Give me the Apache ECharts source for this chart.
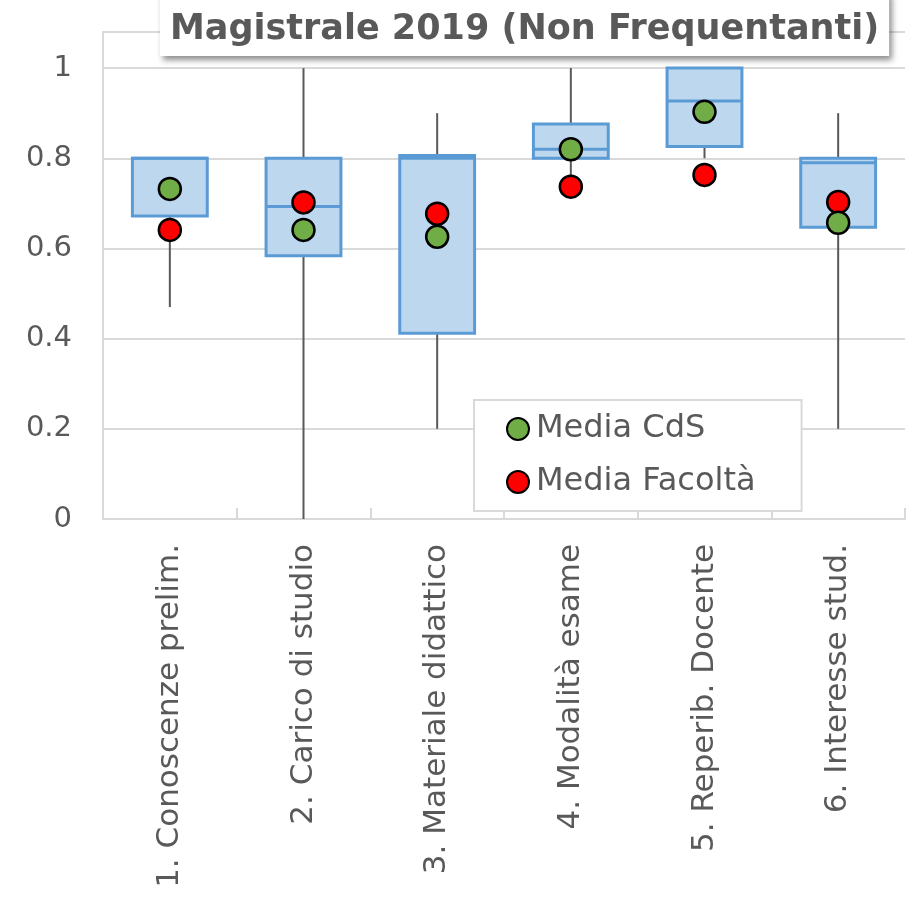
<!DOCTYPE html>
<html>
<head>
<meta charset="utf-8">
<title>Magistrale 2019 (Non Frequentanti)</title>
<script src="https://cdn.jsdelivr.net/npm/echarts@6/dist/echarts.min.js"></script>
<style>
  html, body { margin: 0; padding: 0; background: #ffffff; }
  #chart { width: 910px; height: 914px; }
</style>
</head>
<body>
<div id="chart"></div>
<script>
// Questionnaire areas on the x axis
const categories = [
  '1. Conoscenze prelim.',
  '2. Carico di studio',
  '3. Materiale didattico',
  '4. Modalità esame',
  '5. Reperib. Docente',
  '6. Interesse stud.'
];

// Box-and-whisker statistics per area
const minVals    = [0.47, 0.00, 0.20, 0.75, 0.80, 0.20];
const q1Vals     = [0.672, 0.584, 0.412, 0.800, 0.826, 0.647];
const medianVals = [0.800, 0.693, 0.800, 0.820, 0.927, 0.790];
const q3Vals     = [0.800, 0.800, 0.806, 0.876, 1.000, 0.800];
const maxVals    = [0.80, 1.00, 0.90, 1.00, 1.00, 0.90];

// Averages shown as dots
const mediaCdS     = [0.732, 0.641, 0.626, 0.820, 0.903, 0.657];
const mediaFacolta = [0.641, 0.702, 0.677, 0.737, 0.763, 0.703];

// y axis ticks
const yTicks = [0, 0.2, 0.4, 0.6, 0.8, 1];

const TEXT = '#595959';
const GRID = '#d9d9d9';
const FONT = '"DejaVu Sans", sans-serif';

const boxData = categories.map((c, i) => [i, minVals[i], q1Vals[i], medianVals[i], q3Vals[i], maxVals[i]]);

function renderBox(params, api) {
  const idx = api.value(0);
  const band = api.size([1, 0])[0];
  const w = band * 0.56;
  const cx = api.coord([idx, 0])[0];
  const yMin = api.coord([idx, api.value(1)])[1];
  const yQ1 = api.coord([idx, api.value(2)])[1];
  const yMed = api.coord([idx, api.value(3)])[1];
  const yQ3 = api.coord([idx, api.value(4)])[1];
  const yMax = api.coord([idx, api.value(5)])[1];
  const whisker = { stroke: '#595959', lineWidth: 2 };
  const children = [];
  if (yMin - yQ1 > 0.5) {
    children.push({ type: 'line', shape: { x1: cx, y1: yQ1, x2: cx, y2: yMin }, style: whisker });
  }
  if (yQ3 - yMax > 0.5) {
    children.push({ type: 'line', shape: { x1: cx, y1: yMax, x2: cx, y2: yQ3 }, style: whisker });
  }
  children.push({
    type: 'rect',
    shape: { x: cx - w / 2, y: yQ3, width: w, height: yQ1 - yQ3 },
    style: { fill: '#BDD7EE', stroke: '#5B9BD5', lineWidth: 3 }
  });
  children.push({
    type: 'line',
    shape: { x1: cx - w / 2, y1: yMed, x2: cx + w / 2, y2: yMed },
    style: { stroke: '#5B9BD5', lineWidth: 3 }
  });
  return { type: 'group', children: children };
}

const chart = echarts.init(document.getElementById('chart'), null, { renderer: 'canvas' });

chart.setOption({
  animation: false,
  backgroundColor: '#ffffff',
  title: {
    text: 'Magistrale 2019 (Non Frequentanti)',
    left: 160,
    top: -8,
    padding: [18, 10, 6, 10],
    backgroundColor: '#ffffff',
    shadowColor: 'rgba(0,0,0,0.45)',
    shadowBlur: 6,
    shadowOffsetX: 3,
    shadowOffsetY: 4,
    textStyle: {
      fontFamily: FONT,
      fontWeight: 'bold',
      fontSize: 35,
      lineHeight: 40,
      color: TEXT
    }
  },
  legend: {
    data: ['Media CdS', 'Media Facoltà'],
    orient: 'vertical',
    left: 474,
    top: 400,
    padding: [13, 46, 13, 32],
    itemGap: 21,
    itemWidth: 22,
    itemHeight: 22,
    icon: 'circle',
    backgroundColor: '#ffffff',
    borderColor: GRID,
    borderWidth: 2,
    borderRadius: 0,
    textStyle: { fontFamily: FONT, fontSize: 32, lineHeight: 30, color: TEXT, padding: [0, 0, 0, 2] }
  },
  grid: { left: 103, right: 5, top: 32, bottom: 395, containLabel: false },
  xAxis: {
    type: 'category',
    data: categories,
    boundaryGap: true,
    axisLine: { show: true, lineStyle: { color: GRID, width: 2 } },
    axisTick: { show: true, inside: true, length: 11, lineStyle: { color: GRID, width: 2 } },
    axisLabel: {
      rotate: 90,
      margin: 25,
      interval: 0,
      fontFamily: FONT,
      fontSize: 31,
      color: TEXT
    },
    splitLine: { show: false }
  },
  yAxis: {
    type: 'value',
    min: 0,
    max: 1.08,
    interval: 0.2,
    axisLine: { show: true, lineStyle: { color: GRID, width: 2 } },
    axisTick: { show: false },
    axisLabel: {
      margin: 31,
      fontFamily: FONT,
      fontSize: 29,
      color: TEXT,
      formatter: function (v) {
        const t = yTicks.find(k => Math.abs(k - v) < 1e-6);
        return t === undefined ? '' : String(t);
      }
    },
    splitLine: { show: true, lineStyle: { color: GRID, width: 2 } }
  },
  series: [
    {
      name: 'Box',
      type: 'custom',
      renderItem: renderBox,
      data: boxData,
      encode: { x: 0, y: [1, 2, 3, 4, 5] },
      z: 2
    },
    {
      name: 'Media Facoltà',
      type: 'scatter',
      data: mediaFacolta.map((v, i) => [i, v]),
      symbol: 'circle',
      symbolSize: 22,
      itemStyle: { color: '#FF0000', borderColor: '#000000', borderWidth: 2.5, opacity: 1 },
      z: 3
    },
    {
      name: 'Media CdS',
      type: 'scatter',
      data: mediaCdS.map((v, i) => [i, v]),
      symbol: 'circle',
      symbolSize: 22,
      itemStyle: { color: '#70AD47', borderColor: '#000000', borderWidth: 2.5, opacity: 1 },
      z: 4
    }
  ]
});
</script>
</body>
</html>
